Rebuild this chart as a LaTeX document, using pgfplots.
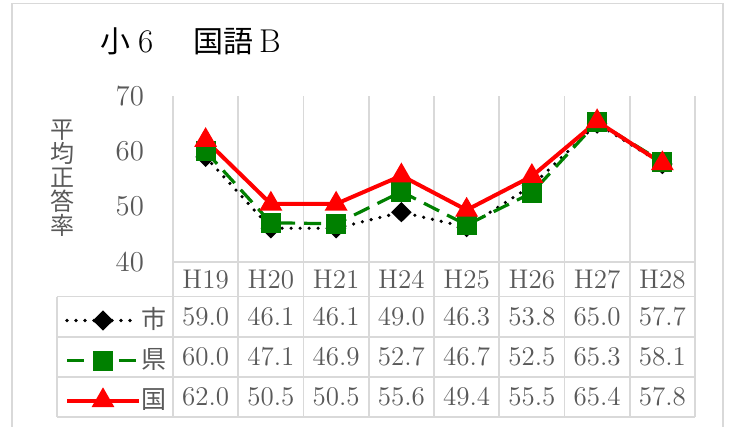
\documentclass[border=0pt]{standalone}
\usepackage{fontspec}
\usepackage{pgfplots}
\usepackage{pgfplotstable}
\pgfplotsset{compat=1.18}
\newfontfamily\cjk{Noto Sans CJK JP}
\definecolor{gridgray}{HTML}{D9D9D9}
\definecolor{txtgray}{HTML}{595959}
\definecolor{kengreen}{HTML}{008000}

% x = position, then 市 / 県 / 国
\pgfplotstableread{
x year shi ken kuni
0 H19 59.0 60.0 62.0
1 H20 46.1 47.1 50.5
2 H21 46.1 46.9 50.5
3 H24 49.0 52.7 55.6
4 H25 46.3 46.7 49.4
5 H26 53.8 52.5 55.5
6 H27 65.0 65.3 65.4
7 H28 57.7 58.1 57.8
}\data

\begin{document}
\begin{tikzpicture}
\useasboundingbox (0,0) rectangle (364.5pt,213.5pt);
% outer frame
\draw[gridgray, line width=0.8pt] (6pt,0) -- (6pt,211.75pt) -- (361.5pt,211.75pt) -- (361.5pt,0);

\node[anchor=base west, font=\fontsize{15}{17}\selectfont] at (46.5pt,187pt)
  {{\cjk 小}\hspace{4pt}\fontsize{16.5}{17}\selectfont 6\hspace{20pt}{\cjk\fontsize{15}{17}\selectfont 国語}\hspace{3pt}B};
\node[text=txtgray, align=center, font=\cjk\fontsize{12}{12}\selectfont] at (31pt,124.5pt)
  {平\\均\\正\\答\\率};

\begin{axis}[
    at={(86.5pt,5pt)}, anchor=south west,
    scale only axis,
    width=261pt, height=160.5pt,
    xmin=-0.5, xmax=7.5,
    ymin=12, ymax=70,
    clip=false,
    axis line style={draw=none},
    major tick length=0pt,
    xtick={-0.5,0.5,...,7.5},
    xticklabel=\empty,
    xmajorgrids,
    grid style={draw=gridgray, line width=0.9pt},
    ytick={40,50,60,70},
    yticklabel style={text=txtgray, font=\fontsize{13.5}{15}\selectfont, xshift=-11pt},
    legend style={at={(axis description cs:-0.2069,0.3566)}, anchor=north west,
        draw=none, fill=none, inner sep=0pt, outer sep=0pt, row sep=0pt,
        font=\cjk\fontsize{12.5}{14}\selectfont, text=txtgray,
        nodes={inner sep=0pt, text height=13pt, text depth=7pt},
        /tikz/every even column/.append style={column sep=5pt}},
    legend cell align=left,
    legend image code/.code={\draw[mark repeat=2,mark phase=2,yshift=1pt]
        plot coordinates {(0pt,0pt)(18pt,0pt)(36pt,0pt)};},
    every node near coord/.append style={anchor=center, text=txtgray,
        font=\fontsize{13.5}{15}\selectfont},
]
\addplot[black, line width=1.8pt, dash pattern=on 0pt off 4.5pt, line cap=round,
    mark=diamond*, mark size=3.8pt, mark options={solid, xscale=1.35}]
    table[x=x, y=shi]{\data};
\addlegendentry{市}
\addplot[kengreen, line width=1.6pt, dash pattern=on 8.5pt off 4.5pt,
    mark=square*, mark size=4.2pt, mark options={solid}]
    table[x=x, y=ken]{\data};
\addlegendentry{県}
\addplot[red, line width=2pt, mark=triangle*, mark size=4.6pt, mark options={solid}]
    table[x=x, y=kuni]{\data};
\addlegendentry{国}

% data table below the plot
\addplot[draw=none, nodes near coords, point meta=explicit symbolic]
    table[x=x, y expr=36.9, meta=year]{\data};
\addplot[draw=none, nodes near coords, point meta=explicit symbolic]
    table[x=x, y expr=30.06, meta=shi]{\data};
\addplot[draw=none, nodes near coords, point meta=explicit symbolic]
    table[x=x, y expr=22.83, meta=ken]{\data};
\addplot[draw=none, nodes near coords, point meta=explicit symbolic]
    table[x=x, y expr=15.6, meta=kuni]{\data};

\draw[gridgray, line width=0.9pt] (axis cs:-0.5,40) -- (axis cs:7.5,40);
\draw[gridgray, line width=0.9pt] (axis cs:-2.28,33.77) -- (axis cs:7.5,33.77);
\draw[gridgray, line width=0.9pt] (axis cs:-2.28,26.43) -- (axis cs:7.5,26.43);
\draw[gridgray, line width=0.9pt] (axis cs:-2.28,19.2) -- (axis cs:7.5,19.2);
\draw[gridgray, line width=0.9pt] (axis cs:-2.28,12) -- (axis cs:7.5,12);
\draw[gridgray, line width=0.9pt] (axis cs:-2.28,33.77) -- (axis cs:-2.28,12);
\end{axis}
\end{tikzpicture}
\end{document}
